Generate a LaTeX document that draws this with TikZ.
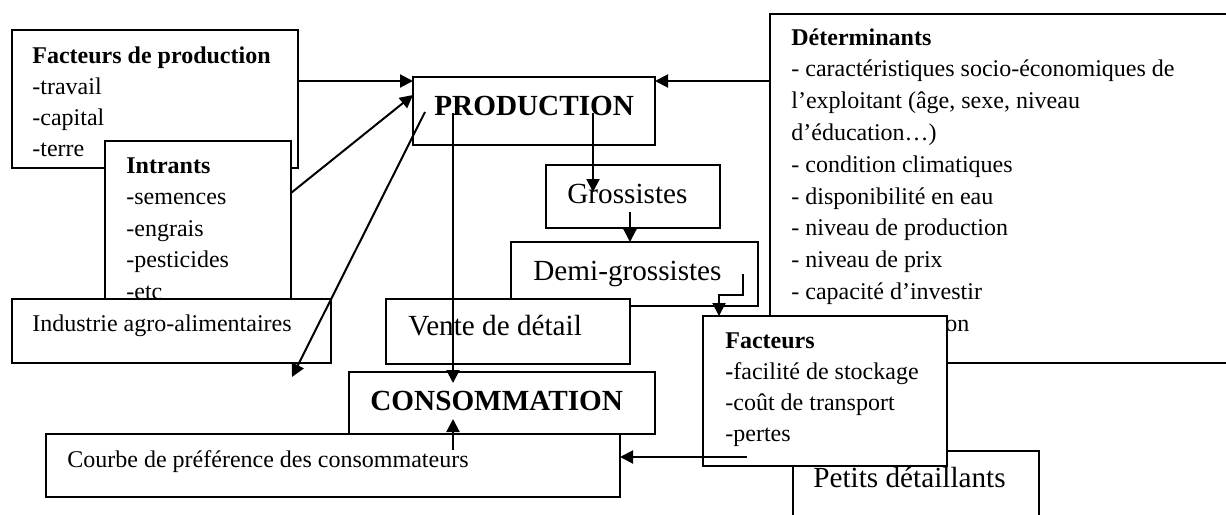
\documentclass[tikz,border=0pt]{standalone}
\usepackage{fontspec}
\setmainfont{Liberation Serif}
\usetikzlibrary{arrows.meta,calc,fit}

\begin{document}
\begin{tikzpicture}[x=0.5pt,y=-0.5pt,
  box/.style={draw, fill=white, line width=1.1pt, inner sep=0pt, outer sep=0pt},
  arr/.style={line width=1pt, -{Triangle[length=6.5pt,width=6.5pt]}},
  small/.style={anchor=base west, inner sep=0pt, font=\fontsize{12}{14}\selectfont},
  big/.style={anchor=base west, inner sep=0pt, font=\fontsize{14.6}{16}\selectfont},
]
\useasboundingbox (0,0) rectangle (1226,514);

% Facteurs de production
\node[box, fit={(12,30) (298,168)}] (fprod) {};
\foreach \t [count=\i from 0] in {{\textbf{Facteurs de production}},{-travail},{-capital},{-terre}}
  \node[small] (fpt\i) at (32,63+31.3*\i) {\t};

% Intrants
\node[box, fit={(105,141) (291,330)}] (intr) {};
\foreach \t [count=\i from 0] in {{\textbf{Intrants}},{-semences},{-engrais},{-pesticides},{-etc}}
  \node[small] (int\i) at (126,173+31.5*\i) {\t};

% Industrie agro-alimentaires
\node[box, fit={(12,299) (331,363)}] (indus) {};
\node[small] (indust) at (32,331) {Industrie agro-alimentaires};

% Déterminants
\node[box, fit={(770,14) (1240,363)}] (deter) {};
\foreach \t [count=\i from 0] in {{\textbf{Déterminants}},
    {- caractéristiques socio-économiques de},
    {l’exploitant (âge, sexe, niveau},
    {d’éducation…)},
    {- condition climatiques},
    {- disponibilité en eau},
    {- niveau de production},
    {- niveau de prix},
    {- capacité d’investir}}
  \node[small] (det\i) at (791,45+31.8*\i) {\t};
\node[small] (detlast) at (945,331) {on};

% Chain of distribution
\node[box, fit={(413,77) (655,145)}] (prod) {};
\node[big] (prodt) at (434,115) {\textbf{PRODUCTION}};

\node[box, fit={(546,165) (720,228)}] (gros) {};
\node[big] (grost) at (567,203) {Grossistes};

\node[box, fit={(511,242) (758,306)}] (demi) {};
\node[big] (demit) at (533,280) {Demi-grossistes};

\node[box, fit={(386,299) (630,364)}] (vente) {};
\node[big] (ventet) at (408,335) {Vente de détail};

\node[box, fit={(349,372) (655,434)}] (conso) {};
\node[big] (consot) at (370,410) {\textbf{CONSOMMATION}};

\node[box, fit={(46,434) (620,497)}] (courbe) {};
\node[small] (courbet) at (67,467) {Courbe de préférence des consommateurs};

\node[box, fit={(793,451) (1039,530)}] (petits) {};
\node[big] (petitst) at (813,487) {Petits détaillants};

% Facteurs (stockage, transport, pertes)
\node[box, fit={(703,316) (947,466)}] (fact) {};
\foreach \t [count=\i from 0] in {{\textbf{Facteurs}},{\textbf{-}facilité de stockage},{-coût de transport},{-pertes}}
  \node[small] (fac\i) at (725,348+31.3*\i) {\t};

% Connectors
\draw[arr] ($(fprod.north east)+(0,51)$) -- ($(prod.north west)+(0,4)$);
\draw[arr] ($(intr.north east)+(0,52)$) -- ($(prod.north west)+(0,18)$);
\draw[arr] ($(deter.north west)+(0,67)$) -- ($(prod.north east)+(0,4)$);
\draw[arr] ($(prod.north west)+(180,36)$) -- ($(gros.north west)+(47,27)$);
\draw[arr] ($(gros.south west)+(84,-16)$) -- ($(demi.north west)+(119,0)$);
\draw[arr] ($(demi.north east)+(-15,32)$) -- ++(0,21) -- ++(-24,0) -- ($(fact.north west)+(16,0)$);
\draw[arr] ($(prod.north west)+(40,36)$) -- ($(conso.north west)+(104,11)$);
\draw[arr] ($(prod.north west)+(12,35)$) -- ($(indus.south east)+(-39,14)$);
\draw[arr] ($(courbe.north west)+(407,16)$) -- ($(conso.south west)+(104,-15)$);
\draw[arr] ($(fact.south west)+(44,-9)$) -- ($(courbe.north east)+(0,23)$);
\end{tikzpicture}
\end{document}
